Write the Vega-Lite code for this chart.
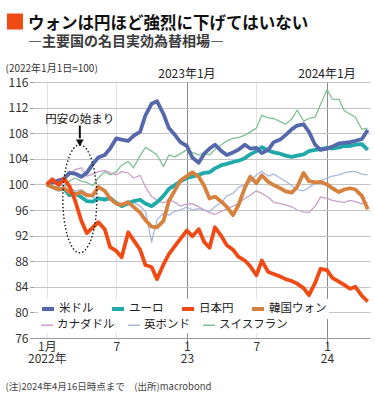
{
"$schema":"https://vega.github.io/schema/vega-lite/v6.json",
"autosize":{"type":"none"},
"width":337,"height":256,
"padding":{"left":33,"top":82,"right":5,"bottom":66},
"background":"white",
"config":{"font":"Noto Sans CJK JP","view":{"stroke":null}},
"title":{"text":"ウォンは円ほど強烈に下げてはいない","subtitle":"―主要国の名目実効為替相場―","anchor":"start","frame":"group","dx":-5,"dy":39,"fontSize":16.5,"fontWeight":"bold","color":"#111","subtitleFontSize":14,"subtitleFontWeight":"bold","subtitleColor":"#3c3c3c","subtitlePadding":2,"offset":4},
"datasets":{"neer":[
{"d":"2022/01/01","米ドル":100,"ユーロ":100,"日本円":100,"韓国ウォン":100,"カナダドル":100,"英ポンド":100,"スイスフラン":100},
{"d":"2022/01/15","米ドル":100.3,"ユーロ":99.6,"日本円":100.8,"韓国ウォン":99.6,"カナダドル":100.5,"英ポンド":100.2,"スイスフラン":100.3},
{"d":"2022/02/01","米ドル":100.6,"ユーロ":99.2,"日本円":99.9,"韓国ウォン":99.2,"カナダドル":100.8,"英ポンド":99.8,"スイスフラン":100},
{"d":"2022/02/15","米ドル":100.9,"ユーロ":99.3,"日本円":100.9,"韓国ウォン":99.4,"カナダドル":101,"英ポンド":100,"スイスフラン":99.8},
{"d":"2022/03/01","米ドル":101.8,"ユーロ":98.3,"日本円":99.7,"韓国ウォン":98.8,"カナダドル":101.5,"英ポンド":99.5,"スイスフラン":100.5},
{"d":"2022/03/15","米ドル":101.7,"ユーロ":98.6,"日本円":97.6,"韓国ウォン":98.4,"カナダドル":102.3,"英ポンド":99,"スイスフラン":101},
{"d":"2022/04/01","米ドル":101.2,"ユーロ":98,"日本円":94.3,"韓国ウォン":98.8,"カナダドル":102.6,"英ポンド":99.2,"スイスフラン":100.5},
{"d":"2022/04/15","米ドル":101.8,"ユーロ":97.4,"日本円":92.4,"韓国ウォン":98.3,"カナダドル":101.3,"英ポンド":98.6,"スイスフラン":100.3},
{"d":"2022/05/01","米ドル":103.2,"ユーロ":97.3,"日本円":93.3,"韓国ウォン":98.3,"カナダドル":101.6,"英ポンド":98,"スイスフラン":99.8},
{"d":"2022/05/15","米ドル":104.2,"ユーロ":97.8,"日本円":94.1,"韓国ウォン":99.6,"カナダドル":102,"英ポンド":97.6,"スイスフラン":101},
{"d":"2022/06/01","米ドル":104.6,"ユーロ":97.6,"日本円":93,"韓国ウォン":99,"カナダドル":102.2,"英ポンド":98,"スイスフラン":102},
{"d":"2022/06/15","米ドル":105.6,"ユーロ":97.9,"日本円":90.2,"韓国ウォン":97.8,"カナダドル":101.8,"英ポンド":97.5,"スイスフラン":101.5},
{"d":"2022/07/01","米ドル":107.2,"ユーロ":97.1,"日本円":89.6,"韓国ウォン":97,"カナダドル":101.5,"英ポンド":97.2,"スイスフラン":102},
{"d":"2022/07/15","米ドル":107,"ユーロ":96.6,"日本円":88.6,"韓国ウォン":96.8,"カナダドル":102,"英ポンド":97,"スイスフラン":103},
{"d":"2022/08/01","米ドル":106.8,"ユーロ":97,"日本円":92.5,"韓国ウォン":97.2,"カナダドル":101.8,"英ポンド":97.5,"スイスフラン":103.6},
{"d":"2022/08/15","米ドル":107.6,"ユーロ":97.4,"日本円":91.3,"韓国ウォン":96.5,"カナダドル":101,"英ポンド":97.2,"スイスフラン":102.6},
{"d":"2022/09/01","米ドル":108.2,"ユーロ":97.6,"日本円":89.8,"韓国ウォン":95.6,"カナダドル":101.4,"英ポンド":96.6,"スイスフラン":104.5},
{"d":"2022/09/15","米ドル":110.8,"ユーロ":97,"日本円":87.4,"韓国ウォン":94.4,"カナダドル":99.6,"英ポンド":95.8,"スイスフラン":105.8},
{"d":"2022/10/01","米ドル":112.6,"ユーロ":96.6,"日本円":87.1,"韓国ウォン":93.4,"カナダドル":98.1,"英ポンド":91,"スイスフラン":105.2},
{"d":"2022/10/15","米ドル":113,"ユーロ":97.2,"日本円":85.2,"韓国ウォン":93.3,"カナダドル":97.5,"英ポンド":94.5,"スイスフラン":104.6},
{"d":"2022/11/01","米ドル":111,"ユーロ":98.2,"日本円":87.5,"韓国ウォン":94.3,"カナダドル":97.1,"英ポンド":95.5,"スイスフラン":102.8},
{"d":"2022/11/15","米ドル":108.8,"ユーロ":99.3,"日本円":89.1,"韓国ウォン":97.4,"カナダドル":97.6,"英ポンド":95.2,"スイスフラン":104.6},
{"d":"2022/12/01","米ドル":107.7,"ユーロ":99.9,"日本円":90.4,"韓国ウォン":99.1,"カナダドル":97.2,"英ポンド":95.8,"スイスフラン":104.3},
{"d":"2022/12/15","米ドル":106.6,"ユーロ":100.5,"日本円":91.5,"韓国ウォン":100.6,"カナダドル":96.6,"英ポンド":96,"スイスフラン":104.8},
{"d":"2023/01/01","米ドル":106,"ユーロ":101,"日本円":92.8,"韓国ウォン":101.3,"カナダドル":96.9,"英ポンド":96.5,"スイスフラン":105.4},
{"d":"2023/01/15","米ドル":104.2,"ユーロ":101.2,"日本円":91.9,"韓国ウォン":101.9,"カナダドル":97,"英ポンド":96,"スイスフラン":105},
{"d":"2023/02/01","米ドル":103.4,"ユーロ":101.5,"日本円":93,"韓国ウォン":101.2,"カナダドル":96.5,"英ポンド":96.2,"スイスフラン":104.6},
{"d":"2023/02/15","米ドル":104.8,"ユーロ":101.8,"日本円":91,"韓国ウォン":99.8,"カナダドル":96,"英ポンド":96,"スイスフラン":104.8},
{"d":"2023/03/01","米ドル":105.6,"ユーロ":101.9,"日本円":90.1,"韓国ウォン":97.8,"カナダドル":95.6,"英ポンド":95.8,"スイスフラン":104.6},
{"d":"2023/03/15","米ドル":106.2,"ユーロ":102.5,"日本円":93.3,"韓国ウォン":98.1,"カナダドル":95.3,"英ポンド":96.5,"スイスフラン":105.5},
{"d":"2023/04/01","米ドル":105.2,"ユーロ":103,"日本円":91.9,"韓国ウォン":97.3,"カナダドル":95.8,"英ポンド":97.2,"スイスフラン":106.2},
{"d":"2023/04/15","米ドル":104.6,"ユーロ":103.2,"日本円":90.5,"韓国ウォン":96.5,"カナダドル":96.2,"英ポンド":98.2,"スイスフラン":106.8},
{"d":"2023/05/01","米ドル":105,"ユーロ":103.5,"日本円":89.8,"韓国ウォン":95.2,"カナダドル":96.6,"英ポンド":98.6,"スイスフラン":107.2},
{"d":"2023/05/15","米ドル":105.4,"ユーロ":103.7,"日本円":88.7,"韓国ウォン":96.7,"カナダドル":97,"英ポンド":99.5,"スイスフラン":107.3},
{"d":"2023/06/01","米ドル":106.2,"ユーロ":104.1,"日本円":88.1,"韓国ウォン":99.5,"カナダドル":97.8,"英ポンド":100,"スイスフラン":107.7},
{"d":"2023/06/15","米ドル":105.6,"ユーロ":104.7,"日本円":87.2,"韓国ウォン":101.2,"カナダドル":98.3,"英ポンド":100.3,"スイスフラン":108.2},
{"d":"2023/07/01","米ドル":105.7,"ユーロ":105.2,"日本円":85.8,"韓国ウォン":100.2,"カナダドル":99,"英ポンド":101.5,"スイスフラン":108.8},
{"d":"2023/07/15","米ドル":104.9,"ユーロ":105.8,"日本円":88.1,"韓国ウォン":101.4,"カナダドル":98.6,"英ポンド":102,"スイスフラン":110.8},
{"d":"2023/08/01","米ドル":105.4,"ユーロ":105.3,"日本円":86.3,"韓国ウォン":100.4,"カナダドル":98,"英ポンド":101.3,"スイスフラン":110.4},
{"d":"2023/08/15","米ドル":106.6,"ユーロ":105,"日本円":86,"韓国ウォン":99.9,"カナダドル":97.2,"英ポンド":101.6,"スイスフラン":110.3},
{"d":"2023/09/01","米ドル":107,"ユーロ":104.8,"日本円":85.6,"韓国ウォン":99.4,"カナダドル":97,"英ポンド":101,"スイスフラン":109.8},
{"d":"2023/09/15","米ドル":107.7,"ユーロ":104.5,"日本円":85.2,"韓国ウォン":98.9,"カナダドル":96.8,"英ポンド":100.5,"スイスフラン":109.4},
{"d":"2023/10/01","米ドル":108.6,"ユーロ":104.3,"日本円":84.9,"韓国ウォン":98.7,"カナダドル":96.5,"英ポンド":99.8,"スイスフラン":110.2},
{"d":"2023/10/15","米ドル":109.2,"ユーロ":104.5,"日本円":84.5,"韓国ウォン":99.6,"カナダドル":96,"英ポンド":99.2,"スイスフラン":111.6},
{"d":"2023/11/01","米ドル":109.4,"ユーロ":104.7,"日本円":83.8,"韓国ウォン":101.8,"カナダドル":95.7,"英ポンド":99,"スイスフラン":109.9},
{"d":"2023/11/15","米ドル":108.2,"ユーロ":105.2,"日本円":82.7,"韓国ウォン":100.5,"カナダドル":95.6,"英ポンド":99.5,"スイスフラン":110.3},
{"d":"2023/12/01","米ドル":106.2,"ユーロ":105.4,"日本円":84.6,"韓国ウォン":100.3,"カナダドル":96.6,"英ポンド":100.2,"スイスフラン":110.5},
{"d":"2023/12/15","米ドル":105.4,"ユーロ":105.5,"日本円":86.8,"韓国ウォン":100.4,"カナダドル":98,"英ポンド":100.5,"スイスフラン":112.5},
{"d":"2024/01/01","米ドル":105.6,"ユーロ":105.7,"日本円":86.6,"韓国ウォン":100,"カナダドル":97.8,"英ポンド":101,"スイスフラン":114.8},
{"d":"2024/01/15","米ドル":105.9,"ユーロ":105.6,"日本円":85.4,"韓国ウォン":99.4,"カナダドル":97.5,"英ポンド":101.3,"スイスフラン":113.3},
{"d":"2024/02/01","米ドル":106.4,"ユーロ":105.8,"日本円":84.8,"韓国ウォン":98.8,"カナダドル":97.3,"英ポンド":101.5,"スイスフラン":113.3},
{"d":"2024/02/15","米ドル":106.5,"ユーロ":106,"日本円":84.3,"韓国ウォン":99.2,"カナダドル":97.2,"英ポンド":101.8,"スイスフラン":111.5},
{"d":"2024/03/01","米ドル":106.6,"ユーロ":106,"日本円":83.7,"韓国ウォン":99.4,"カナダドル":97.5,"英ポンド":102,"スイスフラン":111},
{"d":"2024/03/15","米ドル":106.8,"ユーロ":106.2,"日本円":84,"韓国ウォン":99.2,"カナダドル":97.3,"英ポンド":102,"スイスフラン":110.5},
{"d":"2024/04/01","米ドル":107.1,"ユーロ":106.3,"日本円":82.6,"韓国ウォン":98.2,"カナダドル":97,"英ポンド":101.6,"スイスフラン":108.6},
{"d":"2024/04/16","米ドル":108.5,"ユーロ":105.4,"日本円":81.7,"韓国ウォン":96.1,"カナダドル":97.2,"英ポンド":101.5,"スイスフラン":108.8}
]},
"encoding":{
 "x":{"field":"d","type":"temporal","scale":{"domain":[{"year":2021,"month":11,"date":26},{"year":2024,"month":4,"date":22}]},
  "axis":{"values":[{"year":2022,"month":1,"date":1},{"year":2022,"month":7,"date":1},{"year":2023,"month":1,"date":1},{"year":2023,"month":7,"date":1},{"year":2024,"month":1,"date":1}],
   "grid":true,"gridColor":{"condition":{"test":"month(datum.value)==0 && year(datum.value)>2022","value":"#8a8a8a"},"value":"#e4e4e4"},"gridWidth":1,
   "ticks":true,"tickSize":8,"tickColor":{"condition":{"test":"month(datum.value)==0 && year(datum.value)>2022","value":"#8a8a8a"},"value":"transparent"},
   "domainColor":"#9a9a9a",
   "labelExpr":"month(datum.value)==0 ? (year(datum.value)==2022 ? ['1月','2022年'] : ['1', '' + (year(datum.value)-2000)]) : ['7','']",
   "labelFontSize":12,"labelLineHeight":12.5,"labelPadding":-5,"labelColor":"#333","labelBaseline":"top","labelFlush":false,"labelOverlap":false,
   "title":"(注)2024年4月16日時点まで　(出所)macrobond","titleX":-28,"titleY":51,"titleAlign":"left","titleAnchor":"start","titleBaseline":"alphabetic","titleFontSize":9.5,"titleFontWeight":"normal","titleColor":"#444"}},
 "y":{"field":"v","type":"quantitative","scale":{"domain":[76,116],"nice":false,"zero":false},
  "axis":{"values":[76,80,84,88,92,96,100,104,108,112,116],"grid":true,"gridColor":"#c4c4c4","domain":false,"ticks":true,"tickSize":3,"tickColor":"#8a8a8a","labelFontSize":12,"labelColor":"#333","labelPadding":2,
   "title":"(2022年1月1日=100)","titleAngle":0,"titleAlign":"left","titleBaseline":"alphabetic","titleX":-28,"titleY":-11,"titleFontSize":10,"titleFontWeight":"normal","titleColor":"#333"}}
},
"layer":[
 {"data":{"name":"neer"},
  "transform":[{"fold":["スイスフラン","英ポンド","カナダドル"],"as":["s","v"]}],
  "mark":{"type":"line","strokeWidth":1.3,"strokeJoin":"round"},
  "encoding":{"stroke":{"field":"s","type":"nominal","scale":{"domain":["カナダドル","英ポンド","スイスフラン"],"range":["#c9a0c9","#a9b8dc","#80c096"]},
   "legend":{"title":null,"orient":"none","direction":"horizontal","legendX":5,"legendY":234,"symbolType":"stroke","symbolSize":144,"symbolStrokeWidth":1.5,"labelFontSize":11.5,"labelColor":"#222","columnPadding":10,"labelOffset":3,"fillColor":"#ffffff","padding":2}}}},
 {"data":{"name":"neer"},
  "transform":[{"fold":["ユーロ","米ドル","韓国ウォン","日本円"],"as":["s","v"]}],
  "mark":{"type":"line","strokeWidth":3.8,"strokeJoin":"round"},
  "encoding":{"color":{"field":"s","type":"nominal","scale":{"domain":["米ドル","ユーロ","日本円","韓国ウォン"],"range":["#5468ab","#1fa9a8","#f04a14","#d6813e"]},
   "legend":{"title":null,"orient":"none","direction":"horizontal","legendX":5,"legendY":217,"symbolType":"stroke","symbolSize":144,"symbolStrokeWidth":4,"labelFontSize":11.5,"labelColor":"#222","columnPadding":10,"labelOffset":3,"fillColor":"#ffffff","padding":2}}}},
 {"data":{"values":[{"d":"2022/03/28","v":97.75}]},
  "mark":{"type":"point","shape":"M0,-1C0.174,-1,0.315,-0.552,0.315,0C0.315,0.552,0.174,1,0,1C-0.174,1,-0.315,0.552,-0.315,0C-0.315,-0.552,-0.174,-1,0,-1Z","size":11664,"filled":false,"stroke":"#111","strokeWidth":1.4,"strokeDash":[1.4,2.2],"opacity":1},
  "encoding":{}},
 {"data":{"values":[{"d":"2022/03/28","v":109.2,"v2":107.2}]},
  "mark":{"type":"rule","color":"#111","strokeWidth":2},
  "encoding":{"y2":{"field":"v2"}}},
 {"data":{"values":[{"d":"2022/03/28","v":106.5}]},
  "mark":{"type":"point","shape":"triangle-down","size":60,"filled":true,"color":"#111","opacity":1},
  "encoding":{}},
 {"data":{"values":[{"d":"2022/03/28","v":109.6,"t":"円安の始まり"}]},
  "mark":{"type":"text","fontSize":11.5,"baseline":"alphabetic","color":"#111"},
  "encoding":{"text":{"field":"t"}}},
 {"data":{"values":[{"d":"2023/01/01","v":116.625,"t":"2023年1月"},{"d":"2024/01/01","v":116.625,"t":"2024年1月"}]},
  "mark":{"type":"text","fontSize":12,"baseline":"alphabetic","color":"#222"},
  "encoding":{"text":{"field":"t"}}},
 {"data":{"values":[{"d":"2021/10/10","v":125.45}]},
  "mark":{"type":"square","size":256,"color":"#f04a14","opacity":1},
  "encoding":{}}
]
}
